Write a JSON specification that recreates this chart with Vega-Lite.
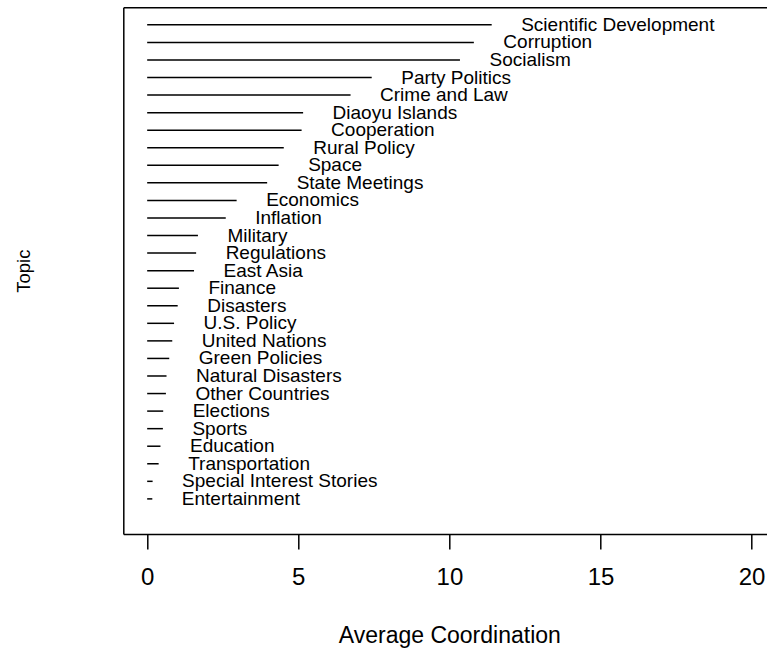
{
  "$schema": "https://vega.github.io/schema/vega-lite/v6.json",
  "autosize": {"type": "none"},
  "padding": {"left": 123.3, "top": 7.3, "right": 0, "bottom": 119},
  "width": 643.7,
  "height": 526.7,
  "background": "white",
  "config": {
    "view": {"stroke": null},
    "font": "Liberation Sans",
    "axis": {"grid": false, "domainColor": "black", "domainWidth": 1.5, "tickColor": "black", "labelColor": "black", "titleColor": "black", "titleFontWeight": "normal", "labelFont": "Liberation Sans", "titleFont": "Liberation Sans"}
  },
  "data": {
    "values": [
      {"topic": "Scientific Development", "value": 11.40},
      {"topic": "Corruption", "value": 10.81},
      {"topic": "Socialism", "value": 10.35},
      {"topic": "Party Politics", "value": 7.43},
      {"topic": "Crime and Law", "value": 6.73},
      {"topic": "Diaoyu Islands", "value": 5.16},
      {"topic": "Cooperation", "value": 5.11},
      {"topic": "Rural Policy", "value": 4.52},
      {"topic": "Space", "value": 4.35},
      {"topic": "State Meetings", "value": 3.97},
      {"topic": "Economics", "value": 2.96},
      {"topic": "Inflation", "value": 2.60},
      {"topic": "Military", "value": 1.68},
      {"topic": "Regulations", "value": 1.62},
      {"topic": "East Asia", "value": 1.55},
      {"topic": "Finance", "value": 1.05},
      {"topic": "Disasters", "value": 1.01},
      {"topic": "U.S. Policy", "value": 0.89},
      {"topic": "United Nations", "value": 0.83},
      {"topic": "Green Policies", "value": 0.73},
      {"topic": "Natural Disasters", "value": 0.64},
      {"topic": "Other Countries", "value": 0.62},
      {"topic": "Elections", "value": 0.53},
      {"topic": "Sports", "value": 0.52},
      {"topic": "Education", "value": 0.44},
      {"topic": "Transportation", "value": 0.38},
      {"topic": "Special Interest Stories", "value": 0.18},
      {"topic": "Entertainment", "value": 0.17}
    ]
  },
  "encoding": {
    "y": {
      "field": "topic",
      "type": "nominal",
      "scale": {
        "type": "point",
        "domain": ["Scientific Development", "Corruption", "Socialism", "Party Politics", "Crime and Law", "Diaoyu Islands", "Cooperation", "Rural Policy", "Space", "State Meetings", "Economics", "Inflation", "Military", "Regulations", "East Asia", "Finance", "Disasters", "U.S. Policy", "United Nations", "Green Policies", "Natural Disasters", "Other Countries", "Elections", "Sports", "Education", "Transportation", "Special Interest Stories", "Entertainment", " "],
        "padding": 1.116
      },
      "axis": {
        "title": "Topic",
        "labels": false,
        "ticks": false,
        "domain": true,
        "titleFontSize": 18.5,
        "titleAngle": -90,
        "titleAlign": "center",
        "titleBaseline": "middle",
        "titleX": -100.3,
        "titleY": 263.4
      }
    }
  },
  "layer": [
    {
      "mark": {"type": "rule", "color": "black", "strokeWidth": 1.5},
      "encoding": {
        "x": {
          "field": "value",
          "type": "quantitative",
          "scale": {"domain": [-0.79, 20.51], "nice": false, "zero": false},
          "axis": {
            "orient": "bottom",
            "title": "Average Coordination",
            "values": [0, 5, 10, 15, 20],
            "tickSize": 15,
            "tickWidth": 1.5,
            "labelFontSize": 24,
            "labelBaseline": "middle",
            "labelPadding": 28,
            "labelFlush": false,
            "labelOverlap": false,
            "titleFontSize": 23,
            "titleBaseline": "middle",
            "titleX": 326,
            "titleY": 101
          }
        },
        "x2": {"datum": 0}
      }
    },
    {
      "mark": {"type": "text", "align": "left", "baseline": "middle", "dx": 29.5, "fontSize": 19, "color": "black"},
      "encoding": {
        "x": {
          "field": "value",
          "type": "quantitative",
          "axis": {"orient": "top", "title": null, "labels": false, "ticks": false, "domain": true}
        },
        "text": {"field": "topic"}
      }
    }
  ],
  "resolve": {"axis": {"x": "independent"}}
}
